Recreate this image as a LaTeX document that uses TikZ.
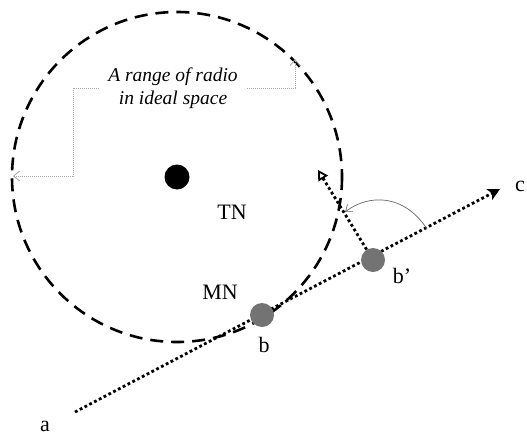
\documentclass[tikz,border=0pt]{standalone}
\usepackage{fontspec}
\setmainfont{Liberation Serif}
\usetikzlibrary{arrows.meta}
\begin{document}
\begin{tikzpicture}[x=1pt,y=-1pt,
  rangecircle/.style={line width=2.6pt,dash pattern=on 13pt off 8pt},
  dotline/.style={line width=2.8pt,dash pattern=on 2.8pt off 2.6pt},
  graydot/.style={draw=gray!70,line width=0.8pt,dash pattern=on 1pt off 1pt},
  thinarc/.style={draw=gray!80!black,line width=0.7pt},
  mnode/.style={circle,fill=gray!90!black,inner sep=0pt,minimum size=24pt},
  tnode/.style={circle,fill=black,inner sep=0pt,minimum size=25pt},
  lbl/.style={font=\fontsize{22}{26}\selectfont,inner sep=0pt}]
\useasboundingbox (0,0) rectangle (527,439);
% range circle
\coordinate (ctr) at (177,177);
\draw[rangecircle] (ctr) circle[radius=165];
\node[tnode] (tn) at (ctr) {};
% path a -> c
\coordinate (a) at (75,412);
\coordinate (c) at (500,189);
\draw[dotline,-{Stealth[length=12pt,width=12pt,inset=3pt]}] (a) -- (c);
\node[mnode] (b) at (262,315) {};
\node[mnode] (bp) at (373,260) {};
% reflected direction
\coordinate (r) at (318,170);
\draw[dotline,-{Triangle[open,length=10pt,width=11pt,line width=1.8pt]}] (bp) -- (r);
% curved angle arrow
\coordinate (s) at (427,229);
\coordinate (e) at (345,212);
\draw[thinarc,-{Straight Barb[length=6pt,width=9pt]}] (s) .. controls (405,195) and (370,193) .. (e);
% label with connectors
\node[font=\fontsize{19.5}{23}\selectfont\itshape,align=center,inner xsep=9pt,inner ysep=2pt] (rl) at (173,88) {A range of radio\\in ideal space};
\coordinate (lt) at (13,176);
\coordinate (rt) at (295,59);
\draw[graydot,-{Straight Barb[length=6pt,width=10pt,line width=0.8pt]}] (rl.west) -- (73,88) -- (73,176) -- (lt);
\draw[graydot,-{Straight Barb[length=6pt,width=10pt,line width=0.8pt]}] (rl.east) -| (rt);
% labels
\node[lbl] (tnl) at (232,212) {TN};
\node[lbl] (mnl) at (220,292) {MN};
\node[lbl] (bl) at (264,345) {b};
\node[lbl] (bpl) at (402,276) {b’};
\node[lbl] (cl) at (520,186) {c};
\node[lbl] (al) at (45,426) {a};
\end{tikzpicture}
\end{document}
